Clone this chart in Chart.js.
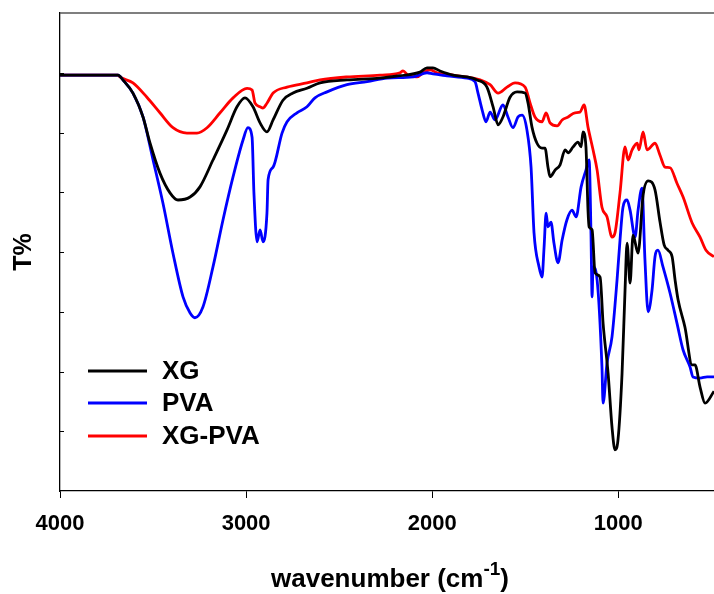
<!DOCTYPE html>
<html>
<head>
<meta charset="utf-8">
<script src="https://cdn.jsdelivr.net/npm/chart.js@4/dist/chart.umd.min.js"></script>
<style>
  html, body { margin: 0; padding: 0; background: #fff; }
  #wrap { width: 714px; height: 594px; position: relative; }
</style>
</head>
<body>
<div id="wrap"><canvas id="ftirChart"></canvas></div>
<script>
// FTIR spectra, wavenumber (cm-1) vs transmittance (arbitrary T%)
const xgWavenumber = [4000, 3688, 3662, 3608, 3554, 3516, 3463, 3409, 3366, 3301, 3248, 3178, 3103, 3049, 3006, 2963, 2925, 2888, 2855, 2802, 2748, 2673, 2603, 2458, 2280, 2173, 2066, 2028, 1996, 1958, 1888, 1813, 1759, 1706, 1673, 1646, 1620, 1582, 1544, 1501, 1485, 1464, 1437, 1410, 1394, 1378, 1367, 1340, 1313, 1286, 1270, 1243, 1217, 1200, 1190, 1174, 1163, 1157, 1141, 1125, 1098, 1082, 1055, 1034, 1018, 1002, 980, 964, 953, 937, 921, 894, 867, 840, 803, 776, 754, 733, 711, 695, 679, 642, 604, 588, 561, 534, 486];
const xgT = [69.6, 69.6, 68.8, 66.6, 62.6, 58.2, 53.2, 49.9, 48.7, 49.2, 50.9, 55.4, 60.4, 64.3, 65.8, 64.3, 61.6, 60.1, 62.1, 65.4, 66.6, 67.4, 68.3, 68.8, 69.1, 69.5, 70.1, 70.8, 70.8, 70.3, 69.6, 69.3, 68.8, 67.6, 64.3, 61.3, 62.6, 65.9, 66.8, 66.6, 64.9, 60.9, 58.2, 57.4, 57.4, 54.2, 52.6, 53.7, 54.6, 57.1, 56.6, 57.6, 58.4, 57.6, 60.1, 57.6, 47.0, 44.2, 43.7, 36.5, 35.8, 28.1, 19.7, 10.7, 6.9, 8.5, 19.7, 33.6, 41.5, 34.8, 42.8, 39.8, 49.5, 51.9, 50.4, 45.0, 41.2, 40.3, 39.2, 35.3, 32.0, 27.4, 21.1, 21.1, 17.4, 14.7, 16.7];

const pvaWavenumber = [4000, 3688, 3662, 3608, 3554, 3500, 3447, 3393, 3339, 3301, 3275, 3232, 3178, 3124, 3070, 3017, 2990, 2968, 2958, 2941, 2925, 2909, 2888, 2882, 2855, 2807, 2780, 2727, 2673, 2630, 2565, 2458, 2350, 2243, 2103, 2028, 1996, 1921, 1813, 1770, 1754, 1732, 1711, 1689, 1663, 1620, 1593, 1566, 1539, 1517, 1491, 1469, 1453, 1426, 1410, 1399, 1388, 1378, 1362, 1346, 1324, 1302, 1276, 1249, 1227, 1200, 1174, 1157, 1147, 1141, 1136, 1114, 1088, 1082, 1061, 1034, 1007, 991, 975, 953, 937, 910, 894, 873, 857, 840, 819, 803, 787, 760, 722, 685, 652, 615, 599, 561, 523, 486];
const pvaT = [69.6, 69.6, 68.8, 66.6, 62.6, 55.4, 48.2, 39.8, 32.5, 29.8, 29.0, 30.8, 37.5, 45.4, 52.6, 58.7, 60.8, 59.2, 49.9, 41.7, 43.7, 41.7, 46.5, 52.1, 54.2, 59.9, 61.8, 63.3, 64.3, 65.8, 66.8, 68.0, 68.5, 69.1, 69.3, 70.0, 69.8, 69.5, 69.1, 68.5, 66.6, 63.8, 61.8, 63.4, 62.1, 64.6, 62.6, 60.8, 62.6, 62.9, 60.4, 54.2, 43.2, 37.5, 35.8, 40.8, 46.5, 44.2, 45.0, 41.5, 38.2, 42.0, 45.4, 47.0, 45.9, 50.9, 53.7, 55.4, 43.2, 32.5, 37.5, 35.3, 20.8, 14.7, 21.4, 25.8, 35.3, 42.0, 47.5, 48.7, 47.0, 42.5, 47.0, 50.7, 38.7, 30.0, 33.6, 39.2, 40.3, 37.5, 33.1, 28.1, 23.6, 20.8, 19.1, 18.9, 19.1, 19.1];

const blendWavenumber = [4000, 3688, 3678, 3608, 3533, 3463, 3393, 3318, 3264, 3210, 3140, 3070, 2995, 2968, 2952, 2925, 2909, 2888, 2855, 2780, 2673, 2603, 2458, 2280, 2173, 2157, 2130, 2082, 2049, 2012, 1974, 1888, 1781, 1743, 1689, 1646, 1598, 1555, 1501, 1474, 1448, 1410, 1388, 1367, 1329, 1302, 1270, 1233, 1206, 1184, 1163, 1136, 1114, 1088, 1061, 1034, 1018, 991, 964, 948, 926, 899, 889, 867, 846, 803, 776, 749, 722, 685, 652, 604, 561, 529, 486];
const blendT = [69.6, 69.6, 69.3, 68.3, 65.9, 63.3, 60.8, 59.9, 59.9, 60.8, 63.3, 65.8, 67.4, 67.1, 64.9, 64.3, 64.1, 64.9, 66.6, 67.6, 68.3, 68.8, 69.3, 69.6, 70.0, 70.3, 69.6, 69.3, 70.0, 70.5, 70.0, 69.6, 69.1, 68.8, 68.0, 66.6, 67.6, 68.3, 67.6, 64.9, 62.6, 61.8, 63.3, 61.6, 61.1, 62.1, 62.6, 63.3, 63.4, 64.6, 60.9, 57.1, 53.7, 47.5, 45.9, 42.5, 43.2, 49.9, 57.6, 55.4, 57.1, 58.2, 57.1, 60.1, 57.1, 58.2, 56.2, 54.2, 54.1, 51.5, 49.2, 44.9, 42.5, 40.3, 39.2];

const xTickValues = [4000, 3000, 2000, 1000];
const yTickValues = [10, 20, 30, 40, 50, 60, 70];

const FONT = 'Arial, "Liberation Sans", sans-serif';

const toPoints = (xs, ys) => xs.map((x, i) => ({ x, y: ys[i] }));

// frame extras: top border, inner y ticks, axis titles and legend
const framePlugin = {
  id: 'frame',
  afterDraw(chart) {
    const { ctx, chartArea, scales } = chart;
    const { left, right, top, bottom } = chartArea;
    ctx.save();

    ctx.strokeStyle = '#555';
    ctx.lineWidth = 1.3;
    ctx.beginPath();
    ctx.moveTo(left, top);
    ctx.lineTo(right, top);
    ctx.stroke();

    ctx.strokeStyle = '#000';
    ctx.lineWidth = 1;
    yTickValues.forEach((v) => {
      const y = Math.round(scales.y.getPixelForValue(v)) + 0.5;
      ctx.beginPath();
      ctx.moveTo(left, y);
      ctx.lineTo(left + 4, y);
      ctx.stroke();
    });

    // y title
    ctx.fillStyle = '#000';
    ctx.font = `bold 25px ${FONT}`;
    ctx.textAlign = 'center';
    ctx.textBaseline = 'middle';
    ctx.save();
    ctx.translate(24, (top + bottom) / 2);
    ctx.rotate(-Math.PI / 2);
    ctx.fillText('T%', 0, 0);
    ctx.restore();

    // x title with superscript
    const main = 'wavenumber (cm';
    const sup = '-1';
    const tail = ')';
    ctx.font = `bold 26px ${FONT}`;
    const wMain = ctx.measureText(main).width;
    const wTail = ctx.measureText(tail).width;
    ctx.font = `bold 19px ${FONT}`;
    const wSup = ctx.measureText(sup).width;
    const total = wMain + wSup + wTail;
    let x = (left + right) / 2 + 3 - total / 2;
    const base = 587;
    ctx.textAlign = 'left';
    ctx.textBaseline = 'alphabetic';
    ctx.font = `bold 26px ${FONT}`;
    ctx.fillText(main, x, base);
    x += wMain;
    ctx.font = `bold 19px ${FONT}`;
    ctx.fillText(sup, x, base - 12);
    x += wSup;
    ctx.font = `bold 26px ${FONT}`;
    ctx.fillText(tail, x, base);

    // legend
    const legendY = [371, 403, 436];
    chart.data.datasets.forEach((ds, i) => {
      ctx.strokeStyle = ds.borderColor;
      ctx.lineWidth = 3;
      ctx.beginPath();
      ctx.moveTo(88, legendY[i]);
      ctx.lineTo(147, legendY[i]);
      ctx.stroke();
      ctx.fillStyle = '#000';
      ctx.font = `bold 26px ${FONT}`;
      ctx.textBaseline = 'middle';
      ctx.fillText(ds.label, 162, legendY[i] + 1);
    });

    ctx.restore();
  },
};

const lineStyle = (label, color, xs, ys) => ({
  label,
  data: toPoints(xs, ys),
  borderColor: color,
  backgroundColor: color,
  borderWidth: 2.8,
  pointRadius: 0,
  fill: false,
  cubicInterpolationMode: 'monotone',
});

new Chart('ftirChart', {
  type: 'line',
  data: {
    datasets: [
      lineStyle('XG', '#000000', xgWavenumber, xgT),
      lineStyle('PVA', '#0000ff', pvaWavenumber, pvaT),
      lineStyle('XG-PVA', '#ff0000', blendWavenumber, blendT),
    ],
  },
  options: {
    responsive: true,
    maintainAspectRatio: false,
    animation: false,
    layout: { padding: { top: 13, right: 0, left: 0, bottom: 0 } },
    plugins: {
      legend: { display: false },
      tooltip: { enabled: false },
    },
    scales: {
      x: {
        type: 'linear',
        reverse: true,
        min: 486,
        max: 4000,
        afterBuildTicks: (scale) => {
          scale.ticks = xTickValues.map((value) => ({ value }));
        },
        afterFit: (scale) => {
          scale.height = 103;
        },
        ticks: {
          color: '#000',
          font: { family: FONT, size: 22, weight: 'bold' },
          padding: 13,
          maxRotation: 0,
          callback: (v) => String(v),
        },
        grid: {
          drawOnChartArea: false,
          drawTicks: true,
          tickLength: 7,
          color: '#000',
        },
        border: { color: '#000', width: 1.3 },
      },
      y: {
        min: 0,
        max: 80,
        afterFit: (scale) => {
          scale.width = 60;
        },
        ticks: { display: false, stepSize: 10 },
        grid: { display: false, drawTicks: false },
        border: { color: '#000', width: 1.3 },
      },
    },
  },
  plugins: [framePlugin],
});
</script>
</body>
</html>
